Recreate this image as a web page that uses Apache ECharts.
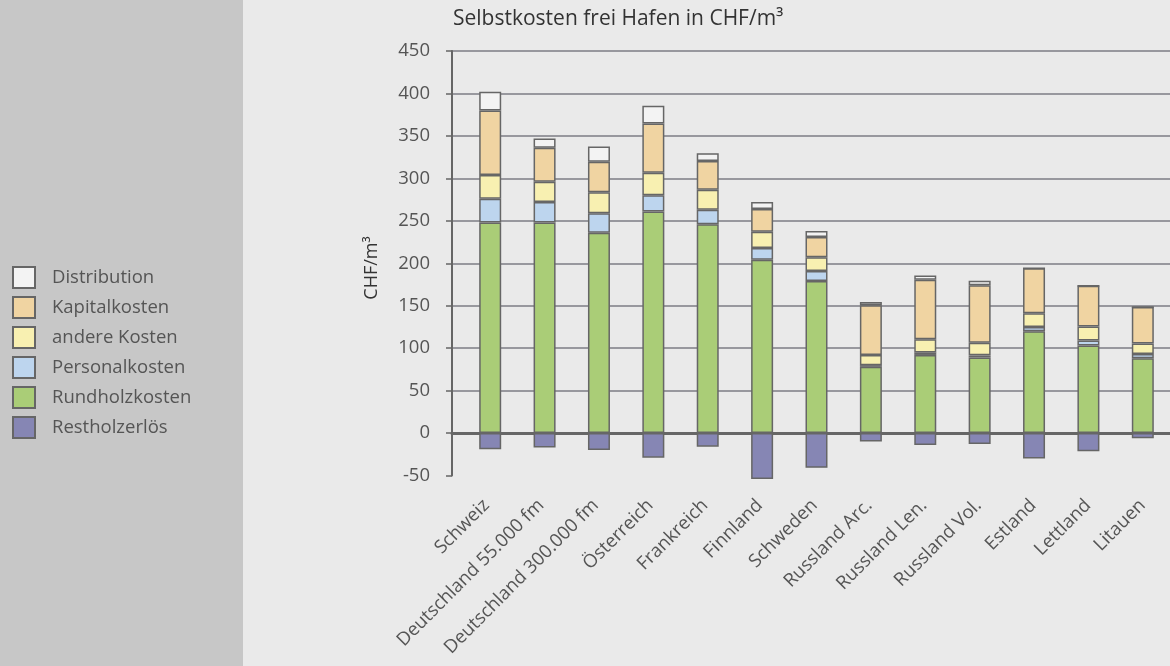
<!DOCTYPE html>
<html>
<head>
<meta charset="utf-8">
<script src="https://cdn.jsdelivr.net/npm/echarts@6/dist/echarts.min.js"></script>
<style>
html,body{margin:0;padding:0;}
#c{width:1170px;height:666px;background:linear-gradient(to right,#c7c7c7 0,#c7c7c7 243px,#eaeaea 243px,#eaeaea 100%);}
</style>
</head>
<body>
<div id="c"></div>
<script>
const categories = ['Schweiz','Deutschland 55.000 fm','Deutschland 300.000 fm','Österreich','Frankreich','Finnland','Schweden','Russland Arc.','Russland Len.','Russland Vol.','Estland','Lettland','Litauen'];
const rundholzkosten = [248,248,236,261,246,204,179,78,92,89,120,103,88];
const personalkosten = [28,24,23,19,17,14,12,2,3,2.5,5,6,5];
const andereKosten = [28,24,24.5,26.5,23.5,19,16,12,15.5,15,16,16.5,12.5];
const kapitalkosten = [76,40,36,58,34,27,24,58.5,70,67.5,53,48,43];
const distribution = [22,11,18,21,9,8,7,4,5,5.5,0,0,0];
const restholzerloes = [-19,-17,-20,-29,-16,-54,-41,-10,-14,-13,-30,-21.5,-6];
const yTicks = {min:-50, max:450, interval:50};

const FONT = '"Open Sans", "Noto Sans", sans-serif';
const chart = echarts.init(document.getElementById('c'), null, {renderer:'canvas'});
const border = {borderColor:'#666666', borderWidth:1.5};
function ser(name, data, color){
  return {name, type:'bar', data, stack:'s', xAxisIndex:1, yAxisIndex:1, barWidth:22, clip:false,
    itemStyle:Object.assign({color}, border), emphasis:{disabled:true}};
}
const splitColors = ['rgba(0,0,0,0)'];
for(let i=0;i<10;i++) splitColors.push('#7c7c84');

chart.setOption({
  backgroundColor:'transparent',
  animation:false,
  title:{text:'Selbstkosten frei Hafen in CHF/m³', left:448, top:4,
    textStyle:{fontFamily:FONT, fontSize:21, fontWeight:'normal', color:'#333'}},
  legend:{orient:'vertical', left:7, top:261, itemWidth:22, itemHeight:21, itemGap:7,
    icon:'rect',
    data:['Distribution','Kapitalkosten','andere Kosten','Personalkosten','Rundholzkosten','Restholzerlös'],
    textStyle:{fontFamily:FONT, fontSize:18.5, lineHeight:21, color:'#555', padding:[2,0,0,12]}},
  grid:[
    {left:452, right:0, top:51, bottom:190.5},
    {left:463, width:710.7, top:51, bottom:190.5},
    {left:459, width:726.7, top:51, bottom:190.5}
  ],
  xAxis:[
    {type:'value', gridIndex:0, min:0, max:1, axisLabel:{show:false}, axisTick:{show:false}, splitLine:{show:false},
      axisLine:{show:true, onZero:true, lineStyle:{color:'#666', width:3}}},
    {type:'category', gridIndex:1, data:categories, axisLine:{show:false, onZero:false}, axisTick:{show:false},
      axisLabel:{show:false}},
    {type:'category', gridIndex:2, data:categories, axisLine:{show:false, onZero:false}, axisTick:{show:false},
      axisLabel:{interval:0, rotate:45, margin:27, fontFamily:FONT, fontSize:18.5, color:'#555'}}
  ],
  yAxis:[
    {type:'value', gridIndex:0, min:yTicks.min, max:yTicks.max, interval:yTicks.interval,
      axisLine:{show:true, lineStyle:{color:'#666', width:2}},
      axisTick:{show:true, length:6, lineStyle:{color:'#666', width:1.5}},
      axisLabel:{margin:22, fontFamily:FONT, fontSize:18.5, color:'#555'},
      splitLine:{show:true, lineStyle:{color:splitColors, width:1.5}}},
    {type:'value', gridIndex:1, min:yTicks.min, max:yTicks.max, interval:yTicks.interval, show:false, splitLine:{show:false}},
    {type:'value', gridIndex:2, min:yTicks.min, max:yTicks.max, interval:yTicks.interval, show:false, splitLine:{show:false}}
  ],
  graphic:[
    {type:'text', x:372, y:268, rotation:Math.PI/2,
      style:{text:'CHF/m³', fontFamily:FONT, fontSize:18, fill:'#333', align:'center', verticalAlign:'middle'}}
  ],
  series:[
    ser('Restholzerlös', restholzerloes, '#8686b4'),
    ser('Rundholzkosten', rundholzkosten, '#aacd77'),
    ser('Personalkosten', personalkosten, '#bdd5ee'),
    ser('andere Kosten', andereKosten, '#f8f0b1'),
    ser('Kapitalkosten', kapitalkosten, '#f0d4a2'),
    ser('Distribution', distribution, '#f3f3f3')
  ]
});
</script>
</body>
</html>
